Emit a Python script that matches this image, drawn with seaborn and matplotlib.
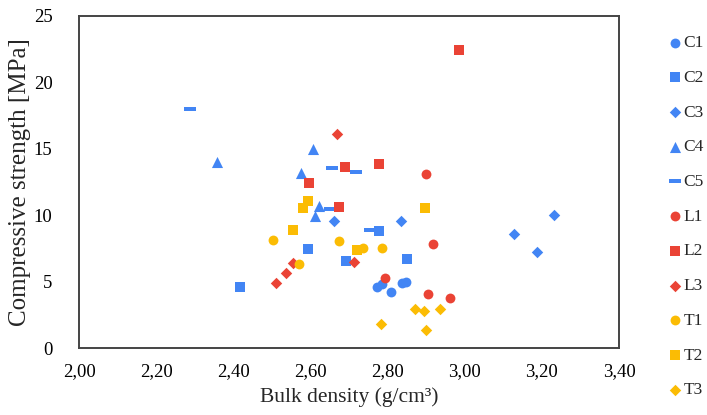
import numpy as np
import pandas as pd
import seaborn as sns
import matplotlib.pyplot as plt
from matplotlib.path import Path

# Compressive strength vs bulk density, by sample group

groups = ['C1', 'C2', 'C3', 'C4', 'C5', 'L1', 'L2', 'L3', 'T1', 'T2', 'T3']

density = {
    'C1': [2.772, 2.785, 2.808, 2.837, 2.848],
    'C2': [2.417, 2.593, 2.692, 2.779, 2.851],
    'C3': [2.661, 2.836, 3.127, 3.188, 3.232],
    'C4': [2.357, 2.575, 2.607, 2.612, 2.623],
    'C5': [2.288, 2.651, 2.655, 2.717, 2.755],
    'L1': [2.793, 2.900, 2.904, 2.919, 2.962],
    'L2': [2.595, 2.674, 2.690, 2.777, 2.985],
    'L3': [2.511, 2.536, 2.556, 2.670, 2.713],
    'T1': [2.504, 2.571, 2.675, 2.737, 2.786],
    'T2': [2.556, 2.582, 2.593, 2.720, 2.898],
    'T3': [2.784, 2.871, 2.894, 2.899, 2.936],
}

strength = {
    'C1': [4.6, 4.85, 4.24, 4.92, 4.99],
    'C2': [4.6, 7.45, 6.57, 8.8, 6.72],
    'C3': [9.59, 9.55, 8.6, 7.2, 10.05],
    'C4': [14.0, 13.15, 15.0, 9.95, 10.7],
    'C5': [18.0, 10.5, 13.53, 13.28, 8.89],
    'L1': [5.25, 13.1, 4.05, 7.85, 3.75],
    'L2': [12.4, 10.65, 13.6, 13.85, 22.45],
    'L3': [4.9, 5.65, 6.4, 16.15, 6.5],
    'T1': [8.15, 6.3, 8.05, 7.5, 7.55],
    'T2': [8.9, 10.55, 11.1, 7.4, 10.55],
    'T3': [1.8, 2.95, 2.8, 1.36, 2.92],
}

xticks = [2.0, 2.2, 2.4, 2.6, 2.8, 3.0, 3.2, 3.4]
xtick_labels = ['2,00', '2,20', '2,40', '2,60', '2,80', '3,00', '3,20', '3,40']
yticks = [0, 5, 10, 15, 20, 25]

blue = '#4285F4'
red = '#EA4335'
yellow = '#FBBC04'

dash = Path([(-0.5, -0.13), (0.5, -0.13), (0.5, 0.13), (-0.5, 0.13), (-0.5, -0.13)],
            [Path.MOVETO, Path.LINETO, Path.LINETO, Path.LINETO, Path.CLOSEPOLY])

style = {
    'C1': (blue, 'o', 50), 'C2': (blue, 's', 60), 'C3': (blue, 'D', 34),
    'C4': (blue, '^', 64), 'C5': (blue, dash, 74),
    'L1': (red, 'o', 50), 'L2': (red, 's', 60), 'L3': (red, 'D', 34),
    'T1': (yellow, 'o', 50), 'T2': (yellow, 's', 60), 'T3': (yellow, 'D', 34),
}

sns.set_style('white')
plt.rcParams['font.family'] = ['Liberation Serif', 'DejaVu Serif']

fig = plt.figure(figsize=(7.07, 4.15), dpi=100)
ax = fig.add_axes([79 / 707, 67 / 415, 540 / 707, 332 / 415])

for g in groups:
    c, m, s = style[g]
    df = pd.DataFrame({'x': density[g], 'y': strength[g]})
    sns.scatterplot(data=df, x='x', y='y', color=c, marker=m, s=s,
                    linewidth=0, label=g, ax=ax, zorder=3)

ax.set_xlim(2.0, 3.4)
ax.set_ylim(0, 25)
ax.set_xticks(xticks, labels=xtick_labels)
ax.set_yticks(yticks)
ax.tick_params(length=0, labelsize=13.5, colors='black')
ax.tick_params(axis='x', pad=11)
ax.tick_params(axis='y', pad=19)

for sp in ax.spines.values():
    sp.set_color('#444444')
    sp.set_linewidth(1.4)

ax.set_xlabel('Bulk density (g/cm³)', fontsize=15.5, labelpad=5)
ax.set_ylabel('Compressive strength [MPa]', fontsize=18, labelpad=2)

ax.get_legend().remove()
handles, labels = ax.get_legend_handles_labels()
fig.legend(handles, labels, loc='upper left', bbox_to_anchor=(659 / 707, 1 - 28 / 415),
           frameon=False, fontsize=12.5, handletextpad=0.0, handlelength=1.0,
           labelspacing=1.07, borderaxespad=0)

fig.savefig('out.png', dpi=100)
